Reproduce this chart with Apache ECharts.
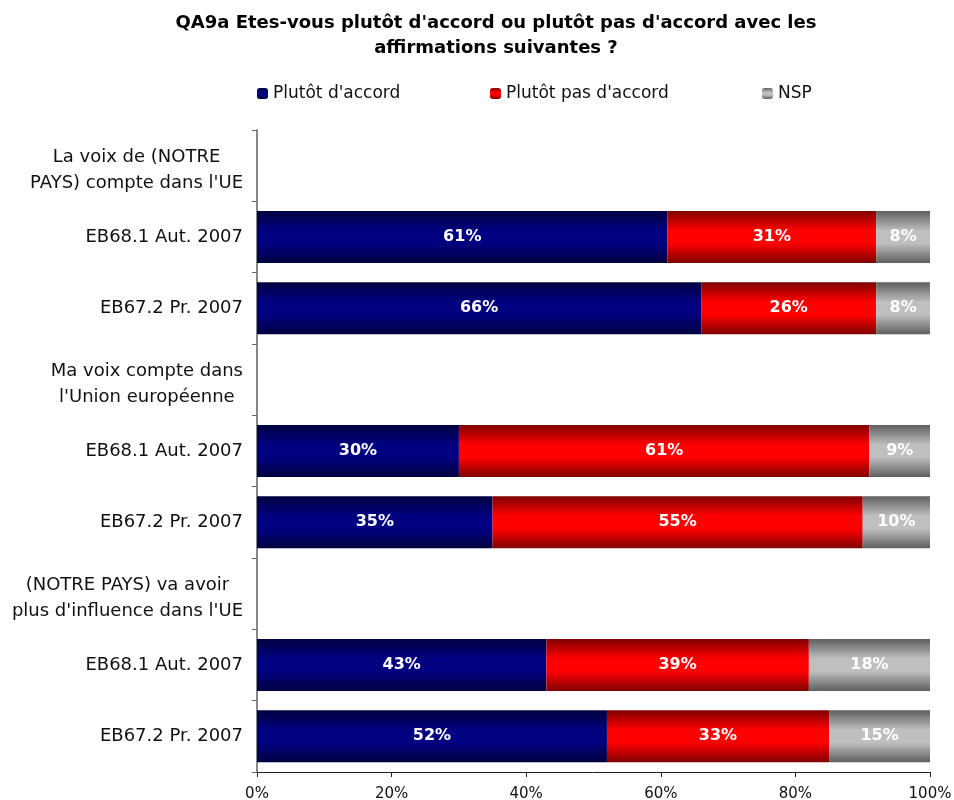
<!DOCTYPE html>
<html>
<head>
<meta charset="utf-8">
<script src="https://cdn.jsdelivr.net/npm/echarts@6/dist/echarts.min.js"></script>
<style>
  html, body { margin: 0; padding: 0; background: #fff; }
  #chart { width: 954px; height: 800px; }
</style>
</head>
<body>
<div id="chart"></div>
<script>
// rows from top to bottom; header rows have no bar
const categories = [
  "La voix de (NOTRE\nPAYS) compte dans l'UE",
  'EB68.1 Aut. 2007',
  'EB67.2 Pr. 2007',
  'Ma voix compte dans\nl\'Union européenne',
  'EB68.1 Aut. 2007',
  'EB67.2 Pr. 2007',
  "(NOTRE PAYS) va avoir\nplus d'influence dans l'UE",
  'EB68.1 Aut. 2007',
  'EB67.2 Pr. 2007'
]
const headerRows = [0, 3, 6]
const accord = [null, 61, 66, null, 30, 35, null, 43, 52]
const pasAccord = [null, 31, 26, null, 61, 55, null, 39, 33]
const nsp = [null, 8, 8, null, 9, 10, null, 18, 15]
const xTicks = [0, 20, 40, 60, 80, 100]

const FONT = '"DejaVu Sans", Verdana, sans-serif'

// bars are dark at top/bottom edges and bright in the middle
const barGradient = (dark, light) => new echarts.graphic.LinearGradient(0, 0, 0, 1, [
  { offset: 0, color: dark },
  { offset: 0.38, color: light },
  { offset: 0.62, color: light },
  { offset: 1, color: dark }
])

const chart = echarts.init(document.getElementById('chart'))

const barLabel = {
  show: true,
  color: '#fff',
  fontFamily: FONT,
  fontWeight: 'bold',
  fontSize: 16,
  formatter: (p) => p.value == null ? '' : p.value + '%'
}

const makeSeries = (name, data, dark, light) => ({
  name,
  type: 'bar',
  stack: 'total',
  barWidth: 52,
  data,
  itemStyle: { color: barGradient(dark, light) },
  label: barLabel,
  emphasis: { disabled: true }
})

const legendBase = {
  top: 80,
  itemWidth: 11,
  itemHeight: 11,
  itemGap: 0,
  textStyle: { fontFamily: FONT, fontSize: 17, color: '#111' }
}

// header labels: lines centred on each other
const headerLabel = (v) => v.split('\n').map((l) => '{h|' + l + '}').join('\n')

chart.setOption({
  animation: false,
  title: {
    text: "QA9a Etes-vous plutôt d'accord ou plutôt pas d'accord avec les\naffirmations suivantes ?",
    left: 491,
    top: 6,
    textAlign: 'center',
    textStyle: {
      fontFamily: FONT,
      fontWeight: 'bold',
      fontSize: 18,
      lineHeight: 25,
      color: '#000'
    }
  },
  legend: [
    Object.assign({ left: 252, data: ['Plutôt d\'accord'] }, legendBase),
    Object.assign({ left: 485, data: ['Plutôt pas d\'accord'] }, legendBase),
    Object.assign({ left: 757, data: ['NSP'] }, legendBase)
  ],
  grid: {
    left: 257,
    right: 24,
    top: 130,
    bottom: 28,
    containLabel: false,
    outerBoundsMode: 'none'
  },
  xAxis: {
    type: 'value',
    min: 0,
    max: 100,
    interval: 20,
    axisLine: { show: true, lineStyle: { color: '#222', width: 1 } },
    axisTick: { show: true, length: 5, inside: false, lineStyle: { color: '#222' } },
    splitLine: { show: false },
    axisLabel: {
      color: '#111',
      fontFamily: FONT,
      fontSize: 15,
      margin: 15,
      formatter: (v) => xTicks.includes(v) ? v + '%' : ''
    }
  },
  yAxis: {
    type: 'category',
    inverse: true,
    data: categories,
    axisLine: { show: true, lineStyle: { color: '#888', width: 2 } },
    axisTick: { show: true, length: 5, lineStyle: { color: '#666' } },
    axisLabel: {
      color: '#111',
      fontFamily: FONT,
      fontSize: 18,
      margin: 14,
      lineHeight: 26,
      formatter: (v, i) => headerRows.includes(i) ? headerLabel(v) : v,
      rich: {
        h: { align: 'center', fontFamily: FONT, fontSize: 18, color: '#111', lineHeight: 26, padding: [10, 0, 0, 0] }
      }
    }
  },
  series: [
    makeSeries('Plutôt d\'accord', accord, '#000040', '#000080'),
    makeSeries('Plutôt pas d\'accord', pasAccord, '#800000', '#ff0000'),
    makeSeries('NSP', nsp, '#5f5f5f', '#bfbfbf')
  ]
})
</script>
</body>
</html>
